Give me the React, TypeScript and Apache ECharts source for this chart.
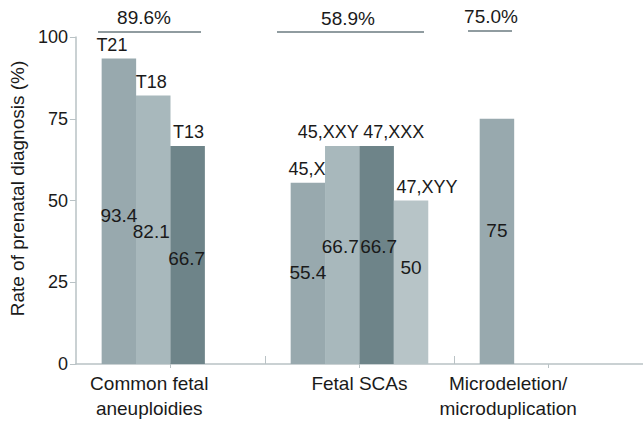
import React, { useEffect, useRef } from "react";
import * as echarts from "echarts";

// ---- data ----
const groupNames = ["Common fetal\naneuploidies", "Fetal SCAs", "Microdeletion/\nmicroduplication"];
const groupRates = ["89.6%", "58.9%", "75.0%"];
const barNames = ["T21", "T18", "T13", "45,X", "45,XXY", "47,XXX", "47,XYY", ""];
const barValues = [93.4, 82.1, 66.7, 55.4, 66.7, 66.7, 50, 75];
const yTicks = [0, 25, 50, 75, 100];

// ---- layout / style (not data) ----
const SLOT_COUNT = 33;
const barSlots = [2, 4, 6, 13, 15, 17, 19, 24];
const groupLabelSlots = [4, 16, 25];
const groupLabelShift = [[-4, 0], [0, 0], [-6, 0]];
const barShade = [0, 1, 2, 0, 1, 2, 3, 0];
const shades = ["#98a9ae", "#a8b8bc", "#6e8489", "#b7c4c7"];
const nameShift = [[-7, 0], [-2, 0], [1, 0], [-1, 0], [-14, 0], [17, 0], [16, 0], [0, 0]];
const valueShift = [[0, 4], [-2, 2], [-1, 4], [0, -1], [-2, -8], [2, -8], [0, -15], [0, -11]];
const brackets = [
  { x1: 98, x2: 201, y: 32, tx: 144, ty: 17 },
  { x1: 277, x2: 424, y: 32, tx: 348, ty: 18 },
  { x1: 468, x2: 512, y: 31, tx: 491, ty: 16 },
];

const TEXT = "#1a1a1a";
const AXIS = "#b9c2c5";
const FONT = "Liberation Sans";

export default function App() {
  const ref = useRef<HTMLDivElement>(null);
  useEffect(() => {
    if (!ref.current) return;
    const chart = echarts.init(ref.current, undefined, { renderer: "svg" });

    const slotLabels: any[] = Array.from({ length: SLOT_COUNT }, () => "");
    groupLabelSlots.forEach(
      (s, i) =>
        (slotLabels[s] = {
          value: groupNames[i],
          textStyle: {
            padding: [0, groupLabelShift[i][0] < 0 ? -2 * groupLabelShift[i][0] : 0, 0, groupLabelShift[i][0] > 0 ? 2 * groupLabelShift[i][0] : 0],
          },
        })
    );
    const six = ["", "", "", "", "", ""];

    const valueData = barValues.map((v, i) => ({
      value: [barSlots[i], v],
      itemStyle: { color: shades[barShade[i]] },
      label: { offset: valueShift[i] },
    }));
    const nameData = barValues.map((v, i) => ({
      value: [barSlots[i], v],
      name: barNames[i],
      label: { offset: nameShift[i] },
    }));

    chart.setOption({
      animation: false,
      textStyle: { fontFamily: FONT },
      grid: { left: 73, right: 0, top: 37, bottom: 58 },
      xAxis: [
        {
          type: "category",
          data: slotLabels,
          position: "bottom",
          axisLine: { show: false },
          axisTick: { show: false },
          axisLabel: { interval: 0, fontSize: 19, color: TEXT, lineHeight: 25, margin: 7 },
        },
        {
          type: "category",
          data: six,
          position: "bottom",
          axisLine: { show: true, lineStyle: { color: AXIS, width: 1.5 } },
          axisTick: { show: true, interval: (i: number) => i % 2 === 1, length: 4, lineStyle: { color: AXIS } },
          axisLabel: { show: false },
        },
        {
          type: "category",
          data: six,
          position: "bottom",
          axisLine: { show: false },
          axisTick: { show: true, inside: true, interval: (i: number) => i % 2 === 0 && i > 0, length: 8, lineStyle: { color: AXIS } },
          axisLabel: { show: false },
        },
      ],
      yAxis: {
        type: "value",
        min: yTicks[0],
        max: yTicks[yTicks.length - 1],
        interval: yTicks[1] - yTicks[0],
        name: "Rate of prenatal diagnosis (%)",
        nameLocation: "middle",
        nameGap: 48,
        nameTextStyle: { fontSize: 19, color: TEXT, padding: [0, 0, 0, 24] },
        axisLine: { show: true, lineStyle: { color: AXIS, width: 1.5 } },
        axisTick: { show: true, length: 6, lineStyle: { color: AXIS } },
        axisLabel: { fontSize: 18, color: TEXT, margin: 8 },
        splitLine: { show: false },
      },
      series: [
        {
          type: "bar",
          xAxisIndex: 0,
          barWidth: 34.5,
          barGap: "-100%",
          data: valueData,
          label: {
            show: true,
            position: "inside",
            fontSize: 19,
            color: TEXT,
            formatter: (p: any) => String(p.value[1]),
          },
        },
        {
          type: "bar",
          xAxisIndex: 0,
          barWidth: 34.5,
          barGap: "-100%",
          data: nameData,
          itemStyle: { color: "rgba(0,0,0,0)" },
          label: {
            show: true,
            position: "top",
            distance: 5,
            fontSize: 18,
            color: TEXT,
            formatter: (p: any) => p.name,
          },
          silent: true,
        },
      ],
      graphic: brackets.flatMap((b, i) => [
        {
          type: "line",
          shape: { x1: b.x1, y1: b.y, x2: b.x2, y2: b.y },
          style: { stroke: "#6b7b80", lineWidth: 1.5 },
        },
        {
          type: "text",
          x: b.tx,
          y: b.ty,
          style: {
            text: groupRates[i],
            fontSize: 19,
            fontFamily: FONT,
            fill: TEXT,
            textAlign: "center",
            textVerticalAlign: "middle",
          },
        },
      ]),
    });
    return () => chart.dispose();
  }, []);
  return <div ref={ref} style={{ width: 643, height: 422, position: "absolute", left: 0, top: 0 }} />;
}
